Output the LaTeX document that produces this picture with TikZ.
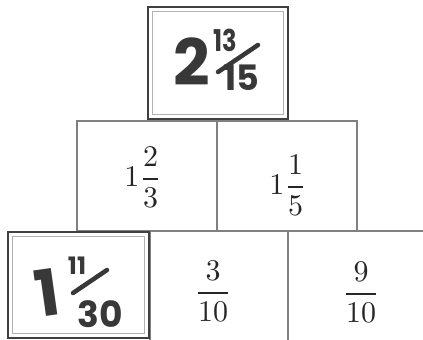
\documentclass[tikz,border=0pt]{standalone}
\usepackage{fontspec}
\usepackage{graphicx}
\newfontfamily\hand{Poppins}
\tikzset{
  cell/.style={draw=black!50, line width=1.1pt},
  bold box/.style={draw=black!75, line width=2.6pt},
  inner box/.style={draw=black!30, line width=0.5pt},
  frac/.style={text=black!85, inner sep=0pt},
  hd/.style={text=black!78, inner sep=0pt},
  slash/.style={draw=black!78, line width=4.5pt, line cap=round}
}
\newcommand{\myfracbox}[1]{\scalebox{3.0}{$\displaystyle #1$}}
\begin{document}
\begin{tikzpicture}[x=1pt,y=-1pt]
\fill[white] (0,0) rectangle (423,340);
\useasboundingbox (0,0) rectangle (423,340);
% middle row
\draw[cell] (77,121) rectangle (217,231);
\draw[cell] (217,121) rectangle (357,231);
% bottom row
\draw[cell] (150,231) rectangle (288,345);
\draw[cell] (288,231) -- (425,231);
% top box
\draw[bold box] (148,7) rectangle (288,119);
\draw[inner box] (152.5,11.5) rectangle (283.5,114.5);
% bottom-left box
\draw[bold box] (8,232) rectangle (149,338);
\draw[inner box] (12.5,236.5) rectangle (144.5,333.5);
% math entries
\node[frac] (m1) at (143,177) {\myfracbox{1\frac{2}{3}}};
\node[frac] (m2) at (288,185) {\myfracbox{1\frac{1}{5}}};
\node[frac] (b2) at (213,291) {\myfracbox{\frac{3}{10}}};
\node[frac] (b3) at (361,292) {\myfracbox{\frac{9}{10}}};
% handwritten 2 13/15
\node[hd, font=\hand\bfseries\fontsize{64}{64}\selectfont] (t2) at (192,62) {2};
\node[hd] (t13) at (225,40) {\scalebox{0.8}[1]{\hand\bfseries\fontsize{30}{30}\selectfont 13}};
\node[hd, font=\hand\bfseries\fontsize{35}{35}\selectfont] (t15) at (241,78) {15};
\coordinate (s1a) at (218,72);
\coordinate (s1b) at (258,45);
\draw[slash] (s1a) -- (s1b);
% handwritten 1 11/30
\node[hd, font=\hand\bfseries\fontsize{64}{64}\selectfont, rotate=8] (u1) at (47,293) {1};
\node[hd, font=\hand\bfseries\fontsize{24}{24}\selectfont] (u11) at (77,266) {11};
\node[hd, font=\hand\bfseries\fontsize{36}{36}\selectfont] (u30) at (100,314) {30};
\coordinate (s2a) at (73,293);
\coordinate (s2b) at (107,270);
\draw[slash] (s2a) -- (s2b);
\end{tikzpicture}
\end{document}
